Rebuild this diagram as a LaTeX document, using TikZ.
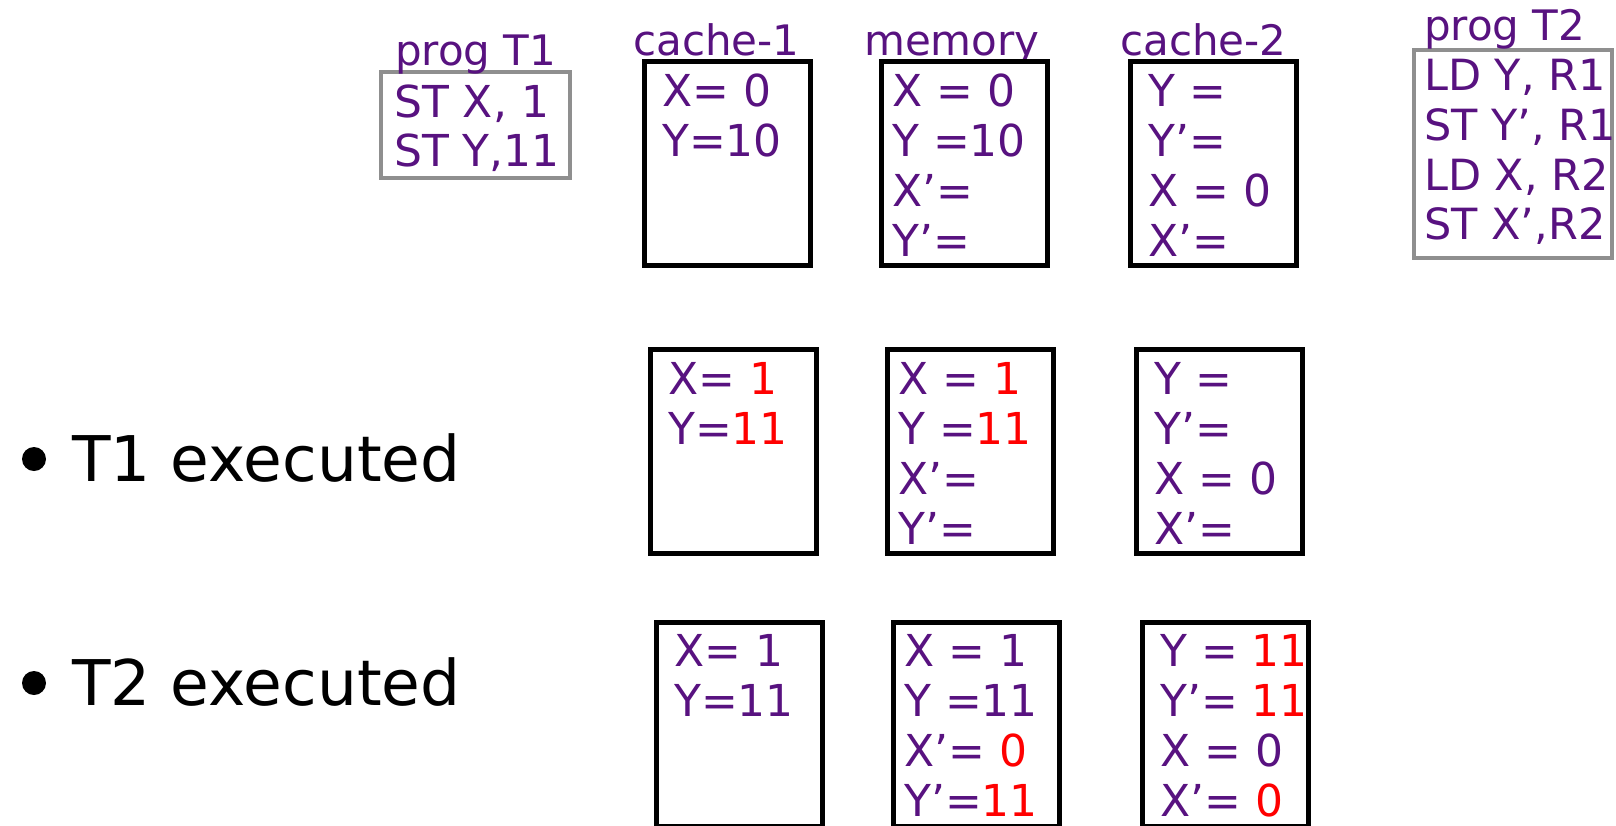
\documentclass[tikz,border=0pt]{standalone}
\usepackage{fontspec}
\setmainfont{DejaVu Sans}
\definecolor{vpurple}{RGB}{88,18,128}
\definecolor{proggray}{RGB}{143,143,143}
\begin{document}
\begin{tikzpicture}[x=1pt,y=-1pt,
  cell/.style={draw=black, line width=5pt, minimum width=166pt, minimum height=204pt, inner sep=0pt, anchor=north west},
  progbox/.style={draw=proggray, line width=4pt, inner sep=0pt, anchor=north west},
  val/.style={font=\fontsize{44}{50}\selectfont, text=vpurple, anchor=base west, inner sep=0pt},
  valsm/.style={val, font=\fontsize{43}{50}\selectfont},
  lbl/.style={font=\fontsize{42}{48}\selectfont, text=vpurple, anchor=base west, inner sep=0pt},
  bul/.style={font=\fontsize{63}{76}\selectfont, text=black, anchor=base west, inner sep=0pt},
  dot/.style={circle, fill=black, inner sep=0pt, minimum size=24pt}]
\newcommand\hot[1]{\textcolor{red}{#1}}
\useasboundingbox (0,0) rectangle (1616,825);

% program boxes
\node[progbox, minimum width=189pt, minimum height=106pt] (p1) at (379,70) {};
\node[progbox, minimum width=198pt, minimum height=208pt] (p2) at (1412,48) {};
\node[lbl] (p1lab) at (395,65) {prog T1};
\node[lbl] (p2lab) at (1424,40) {prog T2};
\node[val] (p1a) at (394,117) {ST X, 1};
\node[val] (p1b) at (394,166) {ST Y,11};
\node[valsm] (p2a) at (1424,90) {LD Y, R1};
\node[valsm] (p2b) at (1424,140) {ST Y’, R1};
\node[valsm] (p2c) at (1424,190) {LD X, R2};
\node[valsm] (p2d) at (1424,239) {ST X’,R2};

% column headings
\node[lbl] (h1) at (633,55) {cache-1};
\node[lbl] (h2) at (864,55) {memory};
\node[lbl] (h3) at (1120,55) {cache-2};

% initial state
\node[cell] (a1) at (642,59) {};
\node[cell] (a2) at (879,59) {};
\node[cell] (a3) at (1128,59) {};
\node[val] (a1x) at (662,106) {X= 0};
\node[val] (a1y) at (662,156) {Y=10};
\node[val] (a2x) at (892,106) {X = 0};
\node[val] (a2y) at (892,156) {Y =10};
\node[val] (a2xp) at (892,206) {X’=};
\node[val] (a2yp) at (892,256) {Y’=};
\node[val] (a3y) at (1148,106) {Y =};
\node[val] (a3yp) at (1148,156) {Y’=};
\node[val] (a3x) at (1148,206) {X = 0};
\node[val] (a3xp) at (1148,256) {X’=};

% after T1
\node[dot] (d1) at (34,459) {};
\node[bul] (t1) at (72,481) {T1 executed};
\node[cell] (b1) at (648,347) {};
\node[cell] (b2) at (885,347) {};
\node[cell] (b3) at (1134,347) {};
\node[val] (b1x) at (668,394) {X= \hot{1}};
\node[val] (b1y) at (668,444) {Y=\hot{11}};
\node[val] (b2x) at (898,394) {X = \hot{1}};
\node[val] (b2y) at (898,444) {Y =\hot{11}};
\node[val] (b2xp) at (898,494) {X’=};
\node[val] (b2yp) at (898,544) {Y’=};
\node[val] (b3y) at (1154,394) {Y =};
\node[val] (b3yp) at (1154,444) {Y’=};
\node[val] (b3x) at (1154,494) {X = 0};
\node[val] (b3xp) at (1154,544) {X’=};

% after T2
\node[dot] (d2) at (34,683) {};
\node[bul] (t2) at (72,705) {T2 executed};
\node[cell] (c1) at (654,620) {};
\node[cell] (c2) at (891,620) {};
\node[cell] (c3) at (1140,620) {};
\node[val] (c1x) at (674,666) {X= 1};
\node[val] (c1y) at (674,716) {Y=11};
\node[val] (c2x) at (904,666) {X = 1};
\node[val] (c2y) at (904,716) {Y =11};
\node[val] (c2xp) at (904,766) {X’= \hot{0}};
\node[val] (c2yp) at (904,816) {Y’=\hot{11}};
\node[val] (c3y) at (1160,666) {Y = \hot{11}};
\node[val] (c3yp) at (1160,716) {Y’= \hot{11}};
\node[val] (c3x) at (1160,766) {X = 0};
\node[val] (c3xp) at (1160,816) {X’= \hot{0}};
\end{tikzpicture}
\end{document}
